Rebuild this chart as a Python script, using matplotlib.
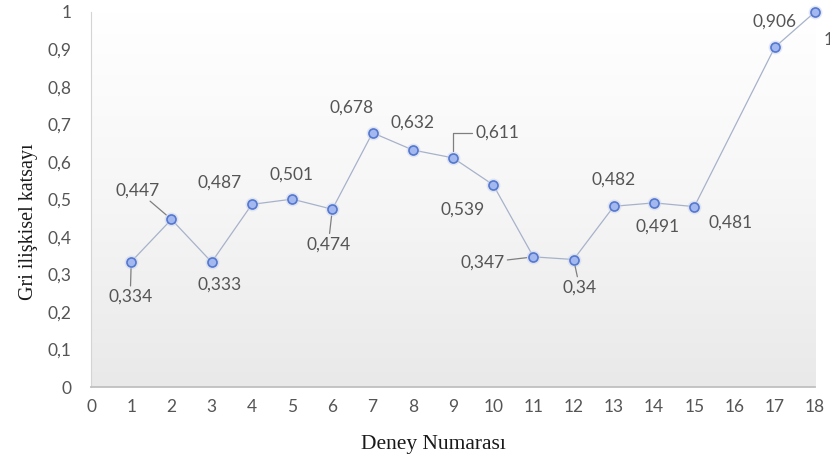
import numpy as np
import matplotlib
matplotlib.use("Agg")
import matplotlib.pyplot as plt
from matplotlib.colors import LinearSegmentedColormap

# deney numarasi (16 yok) ve gri iliskisel katsayilar
deney = [1, 2, 3, 4, 5, 6, 7, 8, 9, 10, 11, 12, 13, 14, 15, 17, 18]
katsayi = [0.334, 0.447, 0.333, 0.487, 0.501, 0.474, 0.678, 0.632, 0.611,
           0.539, 0.347, 0.34, 0.482, 0.491, 0.481, 0.906, 1.0]
etiketler = ["0,334", "0,447", "0,333", "0,487", "0,501", "0,474", "0,678",
             "0,632", "0,611", "0,539", "0,347", "0,34", "0,482", "0,491",
             "0,481", "0,906", "1"]

x_ticks = list(range(0, 19))
y_ticks = [0, 0.1, 0.2, 0.3, 0.4, 0.5, 0.6, 0.7, 0.8, 0.9, 1.0]
y_tick_labels = ["0", "0,1", "0,2", "0,3", "0,4", "0,5", "0,6", "0,7",
                 "0,8", "0,9", "1"]

# label offsets in pixels and which labels get a leader line
offsets = [(-1, -35), (-34, 29), (8, -23), (-32, 22), (-1, 25), (-4, -35),
           (-21, 25), (0, 27), (44, 25), (-31, -25), (-51, -6), (6, -28),
           (0, 27), (3, -24), (36, -16), (0, 26), (14, -28)]
leader = [True, True, False, False, False, True, False, False, "elbow",
          False, True, True, False, False, False, False, False]

fig = plt.figure(figsize=(8.3, 4.63), dpi=100)
ax = fig.add_axes([91 / 830, 76 / 463, 724 / 830, 375 / 463])

# soft vertical gradient behind the plot area
grad = np.linspace(0, 1, 256).reshape(-1, 1)
cmap = LinearSegmentedColormap.from_list("bg", ["#e9e9e9", "#f6f6f6", "#ffffff"])
ax.imshow(grad, extent=[0, 18, 0, 1], origin="lower", aspect="auto",
          cmap=cmap, zorder=0)

ax.plot(deney, katsayi, color="#a7b2ca", lw=0.9, zorder=2)
# faint glow under the markers
ax.plot(deney, katsayi, "o", ms=10, mfc="#c9d3ea", mec="none", alpha=0.5,
        zorder=2.5, clip_on=False)
ax.plot(deney, katsayi, "o", ms=6.5, mfc="#a2b8ee", mec="#5477cf",
        mew=1.2, zorder=3, clip_on=False)

for xi, yi, lab, off, ld in zip(deney, katsayi, etiketler, offsets, leader):
    kw = {}
    if ld is True:
        kw["arrowprops"] = dict(arrowstyle="-", color="#7f7f7f", lw=0.9,
                                shrinkA=0, shrinkB=5)
    elif ld == "elbow":
        kw["arrowprops"] = dict(arrowstyle="-", color="#7f7f7f", lw=0.9,
                                shrinkA=0, shrinkB=5, relpos=(0, 0.5),
                                connectionstyle="angle,angleA=0,angleB=90,rad=0")
    ax.annotate(lab, (xi, yi), xytext=off, textcoords="offset pixels",
                ha="center", va="center", family="Lato", size=12.5,
                color="#555555", annotation_clip=False, zorder=4, **kw)

ax.set_xlim(0, 18)
ax.set_ylim(0, 1)
ax.set_xticks(x_ticks)
ax.set_xticklabels([str(t) for t in x_ticks])
ax.set_yticks(y_ticks)
ax.set_yticklabels(y_tick_labels)
for lbl in ax.get_xticklabels() + ax.get_yticklabels():
    lbl.set_family("Lato")
    lbl.set_fontsize(12.5)
    lbl.set_color("#555555")
ax.tick_params(axis="both", length=0)
ax.tick_params(axis="y", pad=14)
ax.tick_params(axis="x", pad=9)

for s in ["top", "right"]:
    ax.spines[s].set_visible(False)
ax.spines["left"].set_color("#d4d4d4")
ax.spines["bottom"].set_color("#c0c0c0")
ax.spines["bottom"].set_linewidth(1.3)

fig.text(433 / 830, 1 - 444 / 463, "Deney Numarası", family="Liberation Serif",
         size=15.5, color="#1a1a1a", ha="center", va="center")
fig.text(28 / 830, 1 - 222 / 463, "Gri ilişkisel katsayı",
         family="Liberation Serif", size=14.5, color="#1a1a1a",
         ha="center", va="center", rotation=90)

fig.savefig("out.png", dpi=100)
